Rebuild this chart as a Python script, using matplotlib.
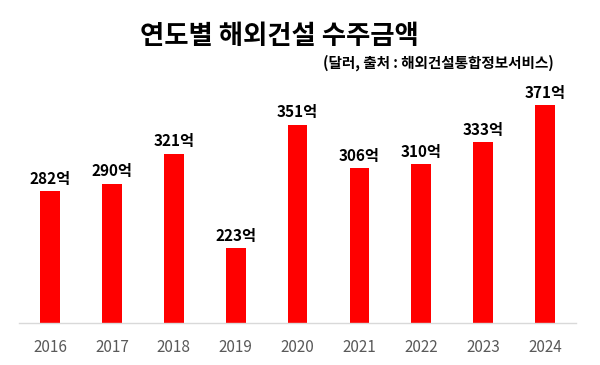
import matplotlib.pyplot as plt

plt.rcParams['font.family'] = ['Noto Sans CJK KR', 'DejaVu Sans']

years = ['2016', '2017', '2018', '2019', '2020', '2021', '2022', '2023', '2024']
amounts = [282, 290, 321, 223, 351, 306, 310, 333, 371]
value_labels = [f'{v}억' for v in amounts]

fig = plt.figure(figsize=(6, 3.65), dpi=100)
ax = fig.add_axes([0.032, 0.1137, 0.928, 0.64])

x = range(len(years))
bars = ax.bar(x, amounts, width=0.32, color='#ff0000', zorder=2)

for bar, lab in zip(bars, value_labels):
    ax.annotate(lab, (bar.get_x() + bar.get_width() / 2, bar.get_height()),
                xytext=(0, 3), textcoords='offset points',
                ha='center', va='bottom', fontsize=11, fontweight='bold',
                color='black')

ax.set_xlim(-0.5, len(years) - 0.5)
ax.set_ylim(145, 387)
ax.set_xticks(list(x))
ax.set_xticklabels(years, fontsize=11, color='#595959')
ax.tick_params(axis='x', length=0, pad=11)
ax.set_yticks([])
for side in ['top', 'right', 'left']:
    ax.spines[side].set_visible(False)
ax.spines['bottom'].set_color('#d9d9d9')
ax.spines['bottom'].set_linewidth(1)

fig.text(0.465, 0.9, '연도별 해외건설 수주금액', ha='center', va='center',
         fontsize=19, fontweight='bold')
fig.text(0.923, 0.828, '(달러, 출처 : 해외건설통합정보서비스)', ha='right', va='center',
         fontsize=10.5, fontweight='bold')

fig.savefig('out.png', dpi=100, facecolor='white')
